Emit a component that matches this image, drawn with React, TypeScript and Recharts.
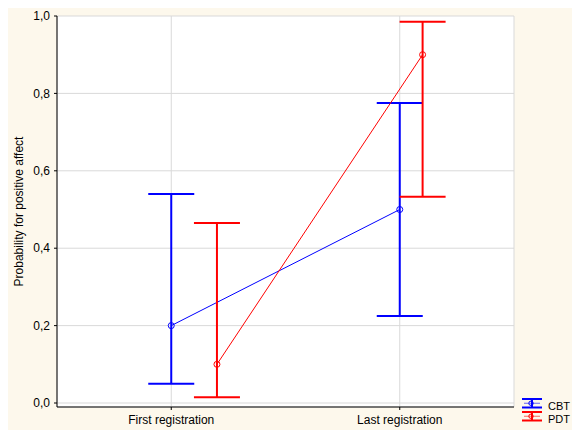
import React from 'react';
import { LineChart, Line, XAxis, YAxis, CartesianGrid, ErrorBar, Customized } from 'recharts';

const categories = ['First registration', 'Last registration'];
const categoryX = [1, 2];
const cbtX = [1, 2];
const pdtX = [1.2, 2.1];
const cbtMean = [0.2, 0.5];
const cbtLower = [0.05, 0.225];
const cbtUpper = [0.54, 0.775];
const pdtMean = [0.1, 0.9];
const pdtLower = [0.015, 0.533];
const pdtUpper = [0.465, 0.985];
const yTicks = [0, 0.2, 0.4, 0.6, 0.8, 1.0];
const seriesNames = ['CBT', 'PDT'];

const BLUE = '#0000ff';
const RED = '#ff0000';
const FONT = 'Arial, "Liberation Sans", sans-serif';
const seriesColors = [BLUE, RED];

const build = (xs: number[], mean: number[], lo: number[], hi: number[]) =>
  xs.map((x, i) => ({ x, y: mean[i], err: [mean[i] - lo[i], hi[i] - mean[i]] }));

const cbtData = build(cbtX, cbtMean, cbtLower, cbtUpper);
const pdtData = build(pdtX, pdtMean, pdtLower, pdtUpper);

const fmtY = (v: number) => v.toFixed(1).replace('.', ',');
const fmtX = (v: number) => categories[categoryX.indexOf(v)] ?? '';

const LegendBox = () => {
  const x0 = 514;
  const y0 = 391;
  const pitch = 13;
  return (
    <g className="custom-legend">
      {seriesNames.map((n, i) => {
        const c = seriesColors[i];
        const top = y0 + i * pitch;
        const bot = top + 8.5;
        const mid = (top + bot) / 2;
        return (
          <g key={n}>
            <line x1={x0} y1={top} x2={x0 + 20} y2={top} stroke={c} strokeWidth={2} />
            <line x1={x0} y1={bot} x2={x0 + 20} y2={bot} stroke={c} strokeWidth={2} />
            <line x1={x0 + 10} y1={top} x2={x0 + 10} y2={bot} stroke={c} strokeWidth={2} />
            <line x1={x0 + 2} y1={mid} x2={x0 + 18} y2={mid} stroke={c} strokeWidth={1} opacity={0.6} />
            <circle cx={x0 + 9} cy={mid} r={2.2} fill="none" stroke={c} strokeWidth={1} />
            <text x={x0 + 26} y={top + 11} fontFamily={FONT} fontSize={11} fill="#000">
              {n}
            </text>
          </g>
        );
      })}
    </g>
  );
};

const YLabel = (props: any) => {
  const vb = props.viewBox || {};
  const cx = 11;
  const cy = vb.y + vb.height / 2;
  return (
    <text
      x={cx}
      y={cy}
      transform={`rotate(-90, ${cx}, ${cy})`}
      textAnchor="middle"
      dominantBaseline="central"
      fontFamily={FONT}
      fontSize={12}
      fill="#000"
    >
      Probability for positive affect
    </text>
  );
};

export default function App() {
  return (
    <div style={{ width: 572, height: 430, boxSizing: 'border-box', padding: '8px 0 0 8px', background: '#ffffff', overflow: 'hidden' }}>
      <style>{`html,body{margin:0;padding:0;overflow:hidden;}`}</style>
      <LineChart
        width={564}
        height={422}
        margin={{ top: 8, right: 58, left: 0, bottom: 0 }}
        style={{ background: '#fdf8ec' }}
      >
        <CartesianGrid stroke="#d9d9d9" fill="#ffffff" strokeWidth={1} />
        <XAxis
          dataKey="x"
          type="number"
          domain={[0.5, 2.5]}
          ticks={categoryX}
          tickFormatter={fmtX}
          height={23}
          tickSize={3}
          tickMargin={5}
          axisLine={{ stroke: '#000', strokeWidth: 1 }}
          tickLine={{ stroke: '#000' }}
          tick={{ fill: '#000', fontSize: 12, fontFamily: FONT }}
          allowDataOverflow
        />
        <XAxis
          xAxisId="top"
          dataKey="x"
          type="number"
          orientation="top"
          mirror
          domain={[0.5, 2.5]}
          ticks={categoryX}
          height={0}
          tickSize={4}
          tick={false}
          axisLine={{ stroke: '#808080', strokeWidth: 2 }}
          tickLine={{ stroke: '#808080' }}
          allowDataOverflow
        />
        <YAxis
          type="number"
          domain={[-0.0103, 1]}
          ticks={yTicks}
          tickFormatter={fmtY}
          width={49}
          tickSize={3}
          tickMargin={4}
          axisLine={{ stroke: '#000', strokeWidth: 1 }}
          tickLine={{ stroke: '#000' }}
          tick={{ fill: '#000', fontSize: 12, fontFamily: FONT }}
          label={<YLabel />}
          allowDataOverflow
        />
        <YAxis
          yAxisId="right"
          type="number"
          orientation="right"
          mirror
          domain={[-0.0103, 1]}
          ticks={yTicks}
          width={0}
          tickSize={4}
          tick={false}
          axisLine={{ stroke: '#808080', strokeWidth: 2 }}
          tickLine={{ stroke: '#808080' }}
          allowDataOverflow
        />
        <Line
          data={cbtData}
          dataKey="y"
          name="CBT"
          stroke={BLUE}
          strokeWidth={1}
          dot={{ r: 3, fill: 'none', stroke: BLUE, strokeWidth: 1 }}
          activeDot={false}
          isAnimationActive={false}
        >
          <ErrorBar dataKey="err" direction="y" width={23} stroke={BLUE} strokeWidth={2} isAnimationActive={false} />
        </Line>
        <Line
          data={pdtData}
          dataKey="y"
          name="PDT"
          stroke={RED}
          strokeWidth={1}
          dot={{ r: 3, fill: 'none', stroke: RED, strokeWidth: 1 }}
          activeDot={false}
          isAnimationActive={false}
        >
          <ErrorBar dataKey="err" direction="y" width={23} stroke={RED} strokeWidth={2} isAnimationActive={false} />
        </Line>
        <Customized component={<LegendBox />} />
      </LineChart>
    </div>
  );
}
